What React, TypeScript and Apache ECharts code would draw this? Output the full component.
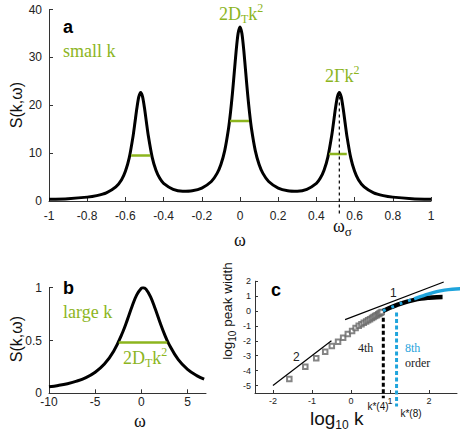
import React, { useEffect, useRef } from 'react';
import * as echarts from 'echarts';

// ---------- Panel a : small k spectrum ----------
const omegaA = [
  -1, -0.9, -0.8, -0.75, -0.7, -0.65, -0.62, -0.6, -0.58, -0.56, -0.55, -0.54, -0.53, -0.52, -0.51, -0.5,
  -0.49, -0.48, -0.46, -0.44, -0.42, -0.4, -0.35, -0.3, -0.25, -0.2, -0.15, -0.12, -0.1, -0.08, -0.06,
  -0.05, -0.04, -0.03, -0.02, -0.01, 0, 0.01, 0.02, 0.03, 0.04, 0.05, 0.06, 0.08, 0.1, 0.12, 0.15, 0.2,
  0.25, 0.3, 0.35, 0.4, 0.42, 0.44, 0.46, 0.48, 0.49, 0.5, 0.51, 0.52, 0.53, 0.54, 0.55, 0.56, 0.58, 0.6,
  0.62, 0.65, 0.7, 0.75, 0.8, 0.9, 1.0,
];
const spectrumA = [
  0.34, 0.49, 0.81, 1.13, 1.7, 2.93, 4.44, 6.19, 9.0, 13.5, 16.39, 19.36, 21.74, 22.68, 21.77, 19.42,
  16.47, 13.61, 9.17, 6.42, 4.73, 3.69, 2.44, 2.06, 2.16, 2.71, 4.08, 5.77, 7.62, 10.52, 15.14,
  18.39, 22.33, 26.85, 31.41, 34.98, 36.37, 34.98, 31.41, 26.85, 22.33, 18.39, 15.14, 10.52, 7.62, 5.77, 4.08, 2.71,
  2.16, 2.06, 2.44, 3.69, 4.73, 6.42, 9.17, 13.61, 16.47, 19.42, 21.77, 22.68, 21.74, 19.36, 16.39, 13.5, 9.0, 6.19,
  4.44, 2.93, 1.7, 1.13, 0.81, 0.49, 0.34,
];
const halfWidthLeftA = [[-0.57, 9.5], [-0.47, 9.5]];
const halfWidthCenterA = [[-0.052, 16.7], [0.047, 16.7]];
const halfWidthRightA = [[0.466, 9.8], [0.559, 9.8]];
const omegaSigma = [[0.52, -2.6], [0.52, 21.8]];
const xTicksA = { min: -1, max: 1, interval: 0.2 };
const yTicksA = { min: 0, max: 40, interval: 10 };

// ---------- Panel b : large k spectrum ----------
const omegaB = [-10, -9, -8, -7, -6, -5, -4, -3, -2, -1.5, -1, -0.5, 0, 0.2, 0.5, 1, 1.5, 2, 2.5, 3, 4, 5, 6, 6.8];
const spectrumB = [0.061, 0.074, 0.091, 0.115, 0.149, 0.2, 0.277, 0.398, 0.583, 0.70, 0.824, 0.932, 0.994, 1.0,
  0.987, 0.913, 0.8, 0.676, 0.561, 0.463, 0.319, 0.227, 0.167, 0.134];
const halfWidthB = [[-2.45, 0.48], [2.8, 0.48]];
const xTicksB = { min: -10, max: 7, labels: [-10, -5, 0, 5] };
const yTicksB = { min: 0, max: 1, interval: 0.5 };

// ---------- Panel c : peak width vs k ----------
const logK = [-1.58, -1.17, -0.89, -0.66, -0.49, -0.33, -0.2, -0.08, 0.03, 0.12, 0.2, 0.27, 0.33, 0.39, 0.44,
  0.49, 0.54, 0.58, 0.62, 0.66, 0.7, 0.73, 0.76, 0.79];
const logWidth = [-4.56, -3.74, -3.17, -2.73, -2.35, -2.06, -1.79, -1.54, -1.34, -1.14, -0.99, -0.88, -0.79, -0.7,
  -0.62, -0.55, -0.47, -0.4, -0.34, -0.28, -0.22, -0.16, -0.11, -0.06];
const slope2Line = [[-2, -5], [-0.5, -2]];
const slope1Line = [[-0.15, -0.58], [2.38, 1.95]];
const fourthOrder = [[0.82, 0.0], [1.0, 0.22], [1.2, 0.43], [1.4, 0.6], [1.6, 0.73], [1.8, 0.83], [2.0, 0.89], [2.2, 0.93], [2.35, 0.94]];
const eighthOrderDotted = [[0.82, 0.01], [1.0, 0.21], [1.2, 0.42], [1.4, 0.62], [1.65, 0.84]];
const eighthOrderSolid = [[1.62, 0.82], [1.8, 0.98], [2.0, 1.15], [2.2, 1.3], [2.4, 1.4], [2.6, 1.46], [2.85, 1.49]];
const kStar4 = [[0.83, -0.45], [0.83, -5.85]];
const kStar8 = [[1.17, -0.1], [1.17, -6.4]];
const xTicksC = { min: -2.46, max: 2.72, labels: [-2, -1, 0, 1, 2] };
const yTicksC = { min: -5.5, max: 2, labels: [-5, -4, -3, -2, -1, 0, 1, 2] };

const GREEN = '#8cb51e';
const BLUE = '#1fa4dc';
const SANS = '"Liberation Sans", Arial, sans-serif';
const SERIF = '"Liberation Serif", "Times New Roman", serif';

let measureCtx: CanvasRenderingContext2D | null = null;
function measure(text: string, font: string): number {
  if (!measureCtx) measureCtx = document.createElement('canvas').getContext('2d');
  if (!measureCtx) return text.length * 8;
  measureCtx.font = font;
  return measureCtx.measureText(text).width;
}

type Part = { t: string; size: number; dy?: number; family?: string; weight?: string; color?: string };

function textGroup(x: number, y: number, parts: Part[], color: string, align: 'left' | 'center' = 'left', rotation = 0) {
  const fonts = parts.map((p) => `${p.weight || 'normal'} ${p.size}px ${p.family || SERIF}`);
  const widths = parts.map((p, i) => measure(p.t, fonts[i]));
  const total = widths.reduce((a, b) => a + b, 0);
  let cur = align === 'center' ? -total / 2 : 0;
  const children = parts.map((p, i) => {
    const el = {
      type: 'text',
      x: cur,
      y: p.dy || 0,
      silent: true,
      style: {
        text: p.t,
        font: fonts[i],
        fill: p.color || color,
        align: 'left',
        verticalAlign: 'middle',
        textAlign: 'left',
        textVerticalAlign: 'middle',
      },
    };
    cur += widths[i];
    return el;
  });
  return { type: 'group', x, y, rotation, silent: true, children };
}

function axisBase(fontSize: number, margin: number) {
  return {
    axisLine: { show: true, onZero: false, lineStyle: { color: '#333', width: 1 } },
    axisTick: { show: true, inside: true, length: 4, lineStyle: { color: '#333', width: 1 } },
    splitLine: { show: false },
    axisLabel: { color: '#222', fontFamily: SANS, fontSize, margin },
  };
}

function lineSeries(data: number[][], xi: number, color: string, width: number) {
  return {
    type: 'line',
    xAxisIndex: xi,
    yAxisIndex: xi,
    data,
    showSymbol: false,
    symbol: 'none',
    silent: true,
    lineStyle: { color, width },
  };
}

export default function App() {
  const ref = useRef<HTMLDivElement>(null);
  useEffect(() => {
    if (!ref.current) return;
    const chart = echarts.init(ref.current, null, { renderer: 'svg' });
    const curveA = omegaA.map((w, i) => [w, spectrumA[i]]);
    const curveB = omegaB.map((w, i) => [w, spectrumB[i]]);
    const squares = logK.map((k, i) => [k, logWidth[i]]);

    const option: any = {
      animation: false,
      backgroundColor: '#ffffff',
      grid: [
        { left: 49, top: 9.5, width: 382, height: 191.5 },
        { left: 49, top: 287.7, width: 157, height: 105.6 },
        { left: 255, top: 281.2, width: 202, height: 111.8 },
      ],
      xAxis: [
        { gridIndex: 0, type: 'value', ...xTicksA, ...axisBase(12, 9) },
        {
          gridIndex: 1, type: 'value', min: xTicksB.min, max: xTicksB.max, ...axisBase(12, 3),
          axisLabel: { ...axisBase(12, 3).axisLabel, customValues: xTicksB.labels },
          axisTick: { ...axisBase(12, 3).axisTick, customValues: xTicksB.labels },
        },
        {
          gridIndex: 2, type: 'value', min: xTicksC.min, max: xTicksC.max, ...axisBase(9, 3),
          axisLabel: { ...axisBase(9, 3).axisLabel, customValues: xTicksC.labels },
          axisTick: { ...axisBase(9, 3).axisTick, length: 3, customValues: xTicksC.labels },
        },
      ],
      yAxis: [
        { gridIndex: 0, type: 'value', ...yTicksA, ...axisBase(12, 7) },
        { gridIndex: 1, type: 'value', ...yTicksB, ...axisBase(12, 7) },
        {
          gridIndex: 2, type: 'value', min: yTicksC.min, max: yTicksC.max, ...axisBase(9, 4),
          axisLabel: { ...axisBase(9, 4).axisLabel, customValues: yTicksC.labels },
          axisTick: { ...axisBase(9, 4).axisTick, length: 3, customValues: yTicksC.labels },
        },
      ],
      series: [
        // panel a
        { ...lineSeries(curveA, 0, '#000', 3), smooth: 0.25 },
        lineSeries(halfWidthLeftA, 0, GREEN, 2.5),
        lineSeries(halfWidthCenterA, 0, GREEN, 2.5),
        lineSeries(halfWidthRightA, 0, GREEN, 2.5),
        { ...lineSeries(omegaSigma, 0, '#000', 1.2), clip: false, lineStyle: { color: '#000', width: 1.2, type: [3, 3] } },
        // panel b
        { ...lineSeries(curveB, 1, '#000', 3), smooth: 0.4 },
        lineSeries(halfWidthB, 1, GREEN, 2.5),
        // panel c
        lineSeries(slope2Line, 2, '#000', 1.2),
        lineSeries(slope1Line, 2, '#000', 1.2),
        {
          type: 'scatter', xAxisIndex: 2, yAxisIndex: 2, data: squares, symbol: 'emptyRect', symbolSize: 4.5,
          silent: true, itemStyle: { color: '#666', borderColor: '#666', borderWidth: 0.8 },
        },
        { ...lineSeries(fourthOrder, 2, '#000', 4.5), smooth: 0.4 },
        { ...lineSeries(eighthOrderSolid, 2, BLUE, 3.5), smooth: 0.4, clip: false },
        { ...lineSeries(eighthOrderDotted, 2, BLUE, 3), smooth: 0.4, lineStyle: { color: BLUE, width: 3, type: [3, 6] } },
        { ...lineSeries(kStar4, 2, '#000', 3), clip: false, lineStyle: { color: '#000', width: 3, type: [4, 2.5] } },
        { ...lineSeries(kStar8, 2, BLUE, 3), clip: false, lineStyle: { color: BLUE, width: 3, type: [4, 2.5] } },
      ],
      graphic: [
        // panel a
        textGroup(63, 27, [{ t: 'a', size: 18, weight: 'bold', family: SANS }], '#000'),
        textGroup(63, 51, [{ t: 'small k', size: 18 }], GREEN),
        textGroup(219, 14, [
          { t: '2D', size: 18 }, { t: 'T', size: 12, dy: 5 }, { t: 'k', size: 18 }, { t: '2', size: 12, dy: -6 },
        ], GREEN),
        textGroup(325, 76, [{ t: '2Γk', size: 18 }, { t: '2', size: 12, dy: -6 }], GREEN),
        textGroup(16, 105, [{ t: 'S(k,ω)', size: 16, family: SANS }], '#111', 'center', Math.PI / 2),
        textGroup(240, 240, [{ t: 'ω', size: 18 }], '#111', 'center'),
        textGroup(333, 226, [{ t: 'ω', size: 18 }, { t: 'σ', size: 13, dy: 5 }], '#111'),
        // panel b
        textGroup(63, 288, [{ t: 'b', size: 18, weight: 'bold', family: SANS }], '#000'),
        textGroup(63, 312, [{ t: 'large k', size: 18 }], GREEN),
        textGroup(123, 358, [
          { t: '2D', size: 18 }, { t: 'T', size: 12, dy: 5 }, { t: 'k', size: 18 }, { t: '2', size: 12, dy: -6 },
        ], GREEN),
        textGroup(16, 339, [{ t: 'S(k,ω)', size: 16, family: SANS }], '#111', 'center', Math.PI / 2),
        textGroup(140, 421, [{ t: 'ω', size: 18 }], '#111', 'center'),
        // panel c
        textGroup(271, 290, [{ t: 'c', size: 18, weight: 'bold', family: SANS }], '#000'),
        textGroup(227, 311, [
          { t: 'log', size: 13.5, family: SANS }, { t: '10', size: 10, dy: 5, family: SANS },
          { t: ' peak width', size: 13.5, family: SANS },
        ], '#111', 'center', Math.PI / 2),
        textGroup(310, 418, [
          { t: 'log', size: 19, family: SANS }, { t: '10', size: 12, dy: 7, family: SANS },
          { t: ' k', size: 19, family: SANS },
        ], '#111'),
        textGroup(293, 357, [{ t: '2', size: 12, family: SANS }], '#222'),
        textGroup(390, 293, [{ t: '1', size: 12, family: SANS }], '#222'),
        textGroup(358, 348, [{ t: '4th', size: 12 }], '#222'),
        textGroup(405, 348, [{ t: '8th', size: 12 }], BLUE),
        textGroup(405, 363, [{ t: 'order', size: 12 }], '#222'),
        textGroup(378, 406, [{ t: 'k*(4)', size: 10, family: SANS }], '#111', 'center'),
        textGroup(411, 413, [{ t: 'k*(8)', size: 10, family: SANS }], '#111', 'center'),
      ],
    };
    chart.setOption(option);
    return () => chart.dispose();
  }, []);
  return (
    <div
      ref={ref}
      style={{ position: 'fixed', left: 0, top: 0, width: 462, height: 433, background: '#fff' }}
    />
  );
}
